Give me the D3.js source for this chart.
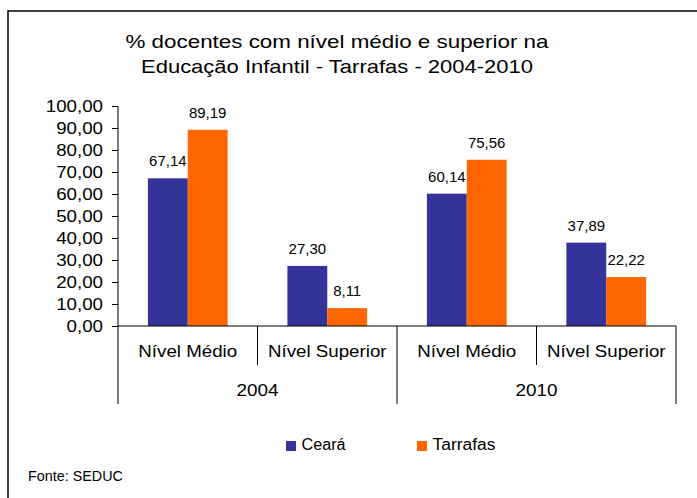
<!DOCTYPE html>
<html><head><meta charset="utf-8">
<script src="https://cdn.jsdelivr.net/npm/d3@7"></script>
<style>
html,body{margin:0;padding:0;background:#fff;}
text{font-family:"Liberation Sans",Arial,sans-serif;fill:#000;}
</style></head>
<body>
<svg id="chart" width="697" height="498"></svg>
<script>
const titleLines = ["% docentes com nível médio e superior na", "Educação Infantil - Tarrafas - 2004-2010"];
const years = ["2004", "2010"];
const levels = ["Nível Médio", "Nível Superior"];
const seriesNames = ["Ceará", "Tarrafas"];
const ceara = [67.14, 27.30, 60.14, 37.89];
const tarrafas = [89.19, 8.11, 75.56, 22.22];
const yTicks = [0, 10, 20, 30, 40, 50, 60, 70, 80, 90, 100];
const colors = ["#333399", "#FF6600"];
const source = "Fonte: SEDUC";

const svg = d3.select("#chart");
const fmt = v => d3.format(".2f")(v).replace(".", ",");

function stretch(sel, k) {
  sel.each(function () {
    const w = this.getComputedTextLength();
    d3.select(this).attr("textLength", w * k).attr("lengthAdjust", "spacingAndGlyphs");
  });
}
function fitTo(sel, w) {
  sel.attr("textLength", w).attr("lengthAdjust", "spacingAndGlyphs");
}

// frame
svg.append("path").attr("d", "M8,498V11H697").attr("fill", "none").attr("stroke", "#000").attr("stroke-width", 1.5);

// title
const t1 = svg.append("text").attr("x", 337).attr("y", 48).attr("text-anchor", "middle").attr("font-size", 19).text(titleLines[0]);
fitTo(t1, 423);
const t2 = svg.append("text").attr("x", 337).attr("y", 73).attr("text-anchor", "middle").attr("font-size", 19).text(titleLines[1]);
fitTo(t2, 392);

// scales
const cats = [];
years.forEach(yr => levels.forEach(l => cats.push(yr + "|" + l)));
const x = d3.scaleBand().domain(cats).range([118, 676]).padding(0);
const xs = d3.scaleBand().domain(seriesNames).range([0, x.bandwidth()]).paddingInner(0).paddingOuter(0.75);
const y = d3.scaleLinear().domain([0, 100]).range([326, 106]);

// bars
const data = cats.map((c, i) => ({ cat: c, vals: [ceara[i], tarrafas[i]] }));
const g = svg.append("g");
data.forEach(d => {
  d.vals.forEach((v, j) => {
    const bx = x(d.cat) + xs(seriesNames[j]);
    g.append("rect").attr("x", bx).attr("y", y(v)).attr("width", xs.bandwidth()).attr("height", y(0) - y(v)).attr("fill", colors[j]);
    g.append("text").attr("x", bx + xs.bandwidth() / 2).attr("y", y(v) - 12).attr("text-anchor", "middle").attr("font-size", 15).text(fmt(v));
  });
});

// y axis
const yAxis = d3.axisLeft(y).tickValues(yTicks).tickSize(6).tickPadding(9).tickFormat(fmt);
const ya = svg.append("g").attr("transform", "translate(118,0)").call(yAxis);
ya.select(".domain").attr("stroke", "#000").attr("d", "M-6,106.5H0V326");
ya.selectAll(".tick line").attr("stroke", "#000");
ya.selectAll(".tick text").attr("font-size", 16).attr("font-family", "Liberation Sans, Arial, sans-serif").attr("fill", "#000").attr("dy", "0.35em");
stretch(ya.selectAll(".tick text"), 1.17);

// x axis line
svg.append("line").attr("x1", 118).attr("x2", 676).attr("y1", y(0)).attr("y2", y(0)).attr("stroke", "#000");

// dividers
const bounds = cats.map(c => x(c)).concat([x.range()[1]]);
bounds.forEach((b, i) => {
  const long = i % levels.length === 0;
  svg.append("line").attr("x1", b).attr("x2", b).attr("y1", y(0)).attr("y2", long ? 404 : 365).attr("stroke", "#000");
});

// category labels
const cl = svg.append("g").selectAll("text").data(cats).join("text")
  .attr("x", c => x(c) + x.bandwidth() / 2).attr("y", 357).attr("text-anchor", "middle").attr("font-size", 16)
  .text(c => c.split("|")[1]);
stretch(cl, 1.17);

// year labels
const yl = svg.append("g").selectAll("text").data(years).join("text")
  .attr("x", (d, i) => x(cats[i * levels.length]) + x.bandwidth() * levels.length / 2).attr("y", 396)
  .attr("text-anchor", "middle").attr("font-size", 16).text(d => d);
stretch(yl, 1.18);

// legend
const legX = [286, 417];
const legW = [44, 63];
seriesNames.forEach((s, j) => {
  svg.append("rect").attr("x", legX[j]).attr("y", 441).attr("width", 10).attr("height", 10).attr("fill", colors[j]);
  const lt = svg.append("text").attr("x", legX[j] + 15.5).attr("y", 450).attr("font-size", 16).text(s);
  fitTo(lt, legW[j]);
});

// source
const src = svg.append("text").attr("x", 28).attr("y", 481).attr("font-size", 14.5).text(source);
fitTo(src, 95);
</script>
</body></html>
